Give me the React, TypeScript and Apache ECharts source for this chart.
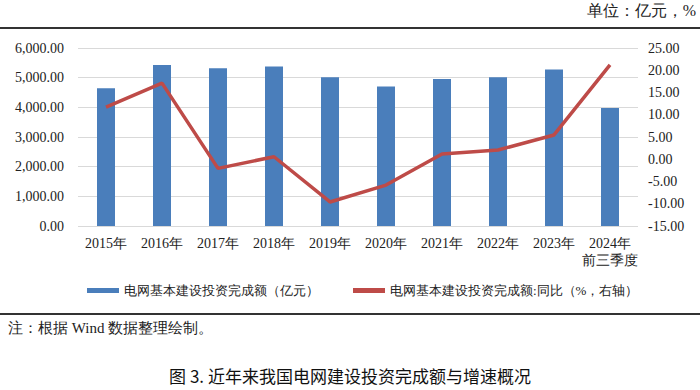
import React, { useEffect, useRef } from "react";
import * as echarts from "echarts";

const categories = ["2015年", "2016年", "2017年", "2018年", "2019年", "2020年", "2021年", "2022年", "2023年", "2024年\n前三季度"];
const investment = [4640, 5431, 5315, 5373, 5012, 4699, 4951, 5012, 5275, 3975];
const growth = [11.7, 17.1, -2.05, 0.56, -9.6, -5.8, 1.17, 2.07, 5.46, 21.2];
const barName = "电网基本建设投资完成额（亿元）";
const lineName = "电网基本建设投资完成额:同比（%，右轴）";

const serif = "\"Liberation Serif\", serif";

export default function App() {
  const ref = useRef<HTMLDivElement>(null);
  useEffect(() => {
    const chart = echarts.init(ref.current!, undefined, { renderer: "svg" });
    chart.setOption({
      animation: false,
      backgroundColor: "#fff",
      grid: { left: 78, right: 62, top: 48, bottom: 164 },
      legend: {
        left: 82,
        top: 279,
        itemGap: 34,
        textStyle: { fontFamily: serif, fontSize: 13, color: "#222" },
        data: [
          { name: barName, icon: "rect", itemStyle: { color: "#4A7EBB" } },
          { name: lineName, icon: "rect", itemStyle: { color: "#BE4B48" } },
        ],
        itemWidth: 32,
        itemHeight: 5,
      },
      xAxis: {
        type: "category",
        data: categories,
        axisLine: { show: false },
        axisTick: { show: false },
        axisLabel: { fontFamily: serif, fontSize: 14, color: "#222", margin: 9, lineHeight: 17, interval: 0 },
      },
      yAxis: [
        {
          type: "value",
          min: 0,
          max: 6000,
          interval: 1000,
          axisLabel: {
            fontFamily: serif,
            fontSize: 14,
            color: "#222",
            margin: 14,
            formatter: (v: number) => v.toLocaleString("en-US", { minimumFractionDigits: 2, maximumFractionDigits: 2 }),
          },
          splitLine: { lineStyle: { color: "#d9d9d9" } },
          axisLine: { show: false },
          axisTick: { show: false },
        },
        {
          type: "value",
          min: -15,
          max: 25,
          interval: 5,
          axisLabel: {
            fontFamily: serif,
            fontSize: 14,
            color: "#222",
            margin: 10,
            formatter: (v: number) => v.toFixed(2),
          },
          splitLine: { show: false },
          axisLine: { show: false },
          axisTick: { show: false },
        },
      ],
      series: [
        {
          name: barName,
          type: "bar",
          data: investment,
          barWidth: 18,
          itemStyle: { color: "#4A7EBB" },
        },
        {
          name: lineName,
          type: "line",
          yAxisIndex: 1,
          data: growth,
          symbol: "none",
          lineStyle: { color: "#BE4B48", width: 3.5 },
          itemStyle: { color: "#BE4B48" },
        },
      ],
      graphic: [
        {
          type: "text",
          right: 4,
          top: 2,
          style: { text: "单位：亿元，%", fontFamily: serif, fontSize: 16, fill: "#222" },
        },
        {
          type: "line",
          shape: { x1: 0, y1: 28, x2: 700, y2: 28 },
          style: { stroke: "#333", lineWidth: 2 },
        },
        {
          type: "line",
          shape: { x1: 0, y1: 314, x2: 700, y2: 314 },
          style: { stroke: "#333", lineWidth: 2 },
        },
        {
          type: "text",
          left: 8,
          top: 320,
          style: { text: "注：根据 Wind 数据整理绘制。", fontFamily: serif, fontSize: 15, fill: "#222" },
        },
        {
          type: "text",
          left: "center",
          top: 367,
          style: { text: "图 3. 近年来我国电网建设投资完成额与增速概况", fontFamily: "Noto Sans CJK SC, sans-serif", fontSize: 17, fill: "#111" },
        },
      ],
    });
    return () => chart.dispose();
  }, []);
  return <div ref={ref} style={{ width: 700, height: 390, position: "absolute", left: 0, top: 0 }} />;
}
